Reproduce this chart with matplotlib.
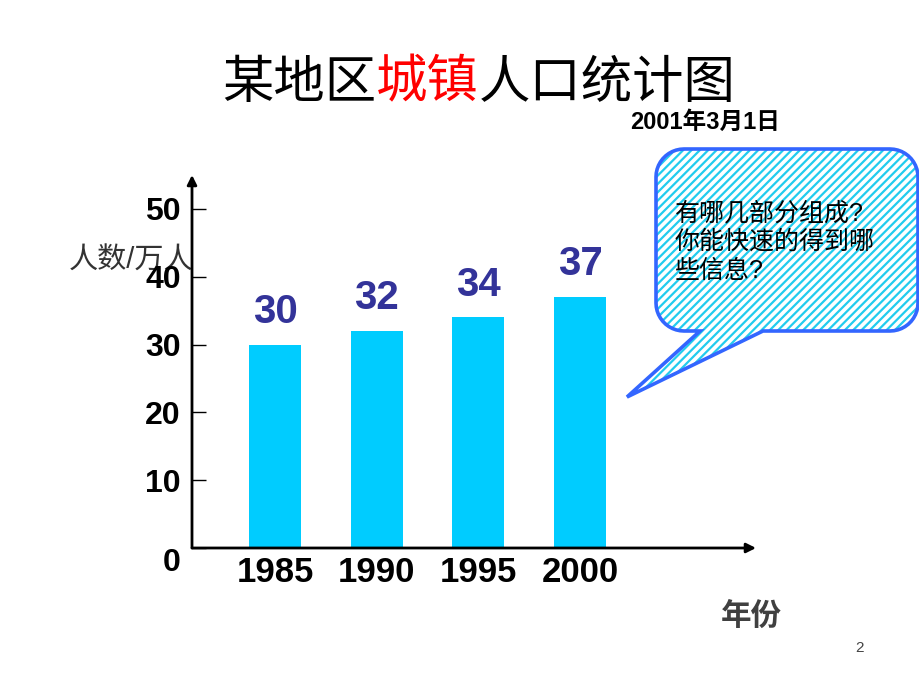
import numpy as np
import matplotlib
matplotlib.use("Agg")
import matplotlib.pyplot as plt
from matplotlib.path import Path
from matplotlib.patches import PathPatch

plt.rcParams['font.family'] = ['Liberation Sans', 'Noto Sans CJK SC', 'DejaVu Sans']
plt.rcParams['hatch.linewidth'] = 1.6

# data
years = ['1985', '1990', '1995', '2000']
population = [30, 32, 34, 37]          # 万人
y_ticks = [0, 10, 20, 30, 40, 50]

title_parts = [('某地区', 'black'), ('城镇', 'red'), ('人口统计图', 'black')]
date_text = '2001年3月1日'
bubble_lines = ['有哪几部分组成?', '你能快速的得到哪', '些信息?']

W, H = 920, 690
fig = plt.figure(figsize=(W / 100, H / 100), dpi=100)

# main chart axes, placed in pixel terms
ax_left, ax_right, ax_top, ax_bottom = 192, 756, 175, 548
ax = fig.add_axes([ax_left / W, 1 - ax_bottom / H,
                   (ax_right - ax_left) / W, (ax_bottom - ax_top) / H])

x = np.arange(len(years))
ax.bar(x, population, width=0.51, color='#00CCFF', zorder=2)
for xi, v in zip(x, population):
    ax.annotate(str(v), (xi, v), xytext=(0, 10), textcoords='offset points',
                ha='center', va='bottom', fontsize=29, fontweight='bold',
                color='#333399')

ax.set_xlim(-0.816, 4.73)
ax.set_ylim(0, 55)
ax.set_xticks(x)
ax.set_xticklabels(years, fontsize=25, fontweight='bold')
ax.tick_params(axis='x', length=0, pad=6)
ax.set_yticks(y_ticks)
ax.set_yticklabels([str(t) for t in y_ticks], fontsize=23, fontweight='bold')
ax.tick_params(axis='y', direction='in', length=10, width=1, pad=8)
ax.get_yticklabels()[0].set_va('top')
for s in ax.spines.values():
    s.set_visible(False)
ax.patch.set_alpha(0)

# axis lines with arrow heads
ax.annotate('', xy=(0, 1), xytext=(0, 0), xycoords='axes fraction',
            arrowprops=dict(arrowstyle='-|>', color='black', lw=2,
                            mutation_scale=14, shrinkA=0, shrinkB=0))
ax.annotate('', xy=(1, 0), xytext=(0, 0), xycoords='axes fraction',
            arrowprops=dict(arrowstyle='-|>', color='black', lw=2,
                            mutation_scale=14, shrinkA=0, shrinkB=0))

# overlay in pixel coords for texts and the speech bubble
ov = fig.add_axes([0, 0, 1, 1], zorder=-1)
ov.set_xlim(0, W)
ov.set_ylim(H, 0)
ov.axis('off')

# title with coloured middle part
t = None
for part, col in title_parts:
    if t is None:
        t = ov.text(222, 84, part, color=col, fontsize=37, va='center', ha='left')
    else:
        t = ov.annotate(part, xycoords=t, xy=(1, 0), va='bottom', ha='left',
                        color=col, fontsize=37)

ov.text(780, 122, date_text, fontsize=17, fontweight='bold', ha='right', va='center')
ov.text(131, 261, '人数/万人', fontsize=21, color='#333333', ha='center', va='center')
ov.text(751, 617, '年份', fontsize=22, fontweight='bold', color='#404040',
        ha='center', va='center')
ov.text(860, 648, '2', fontsize=11, color='#444444', ha='center', va='center')


# speech bubble outline
def arc(cx, cy, r, a0, a1, n=12):
    a = np.radians(np.linspace(a0, a1, n))
    return list(zip(cx + r * np.cos(a), cy + r * np.sin(a)))


L, R, T, B, r = 656, 918, 149, 331, 28
pts = [(763, B)]
pts += arc(R - r, B - r, r, 90, 0)
pts += arc(R - r, T + r, r, 0, -90)
pts += arc(L + r, T + r, r, -90, -180)
pts += arc(L + r, B - r, r, -180, -270)
pts += [(700, B), (627, 397), (763, B)]
codes = [Path.MOVETO] + [Path.LINETO] * (len(pts) - 2) + [Path.CLOSEPOLY]
bubble = Path(pts, codes)
ov.add_patch(PathPatch(bubble, facecolor='white', edgecolor='#22CCEE',
                       hatch='////', lw=0))
ov.add_patch(PathPatch(bubble, facecolor='none', edgecolor='#3366FF', lw=2.6))

for i, line in enumerate(bubble_lines):
    ov.text(675, 213 + i * 29, line, fontsize=18, ha='left', va='center', color='black')

fig.savefig('out.png', dpi=100)
